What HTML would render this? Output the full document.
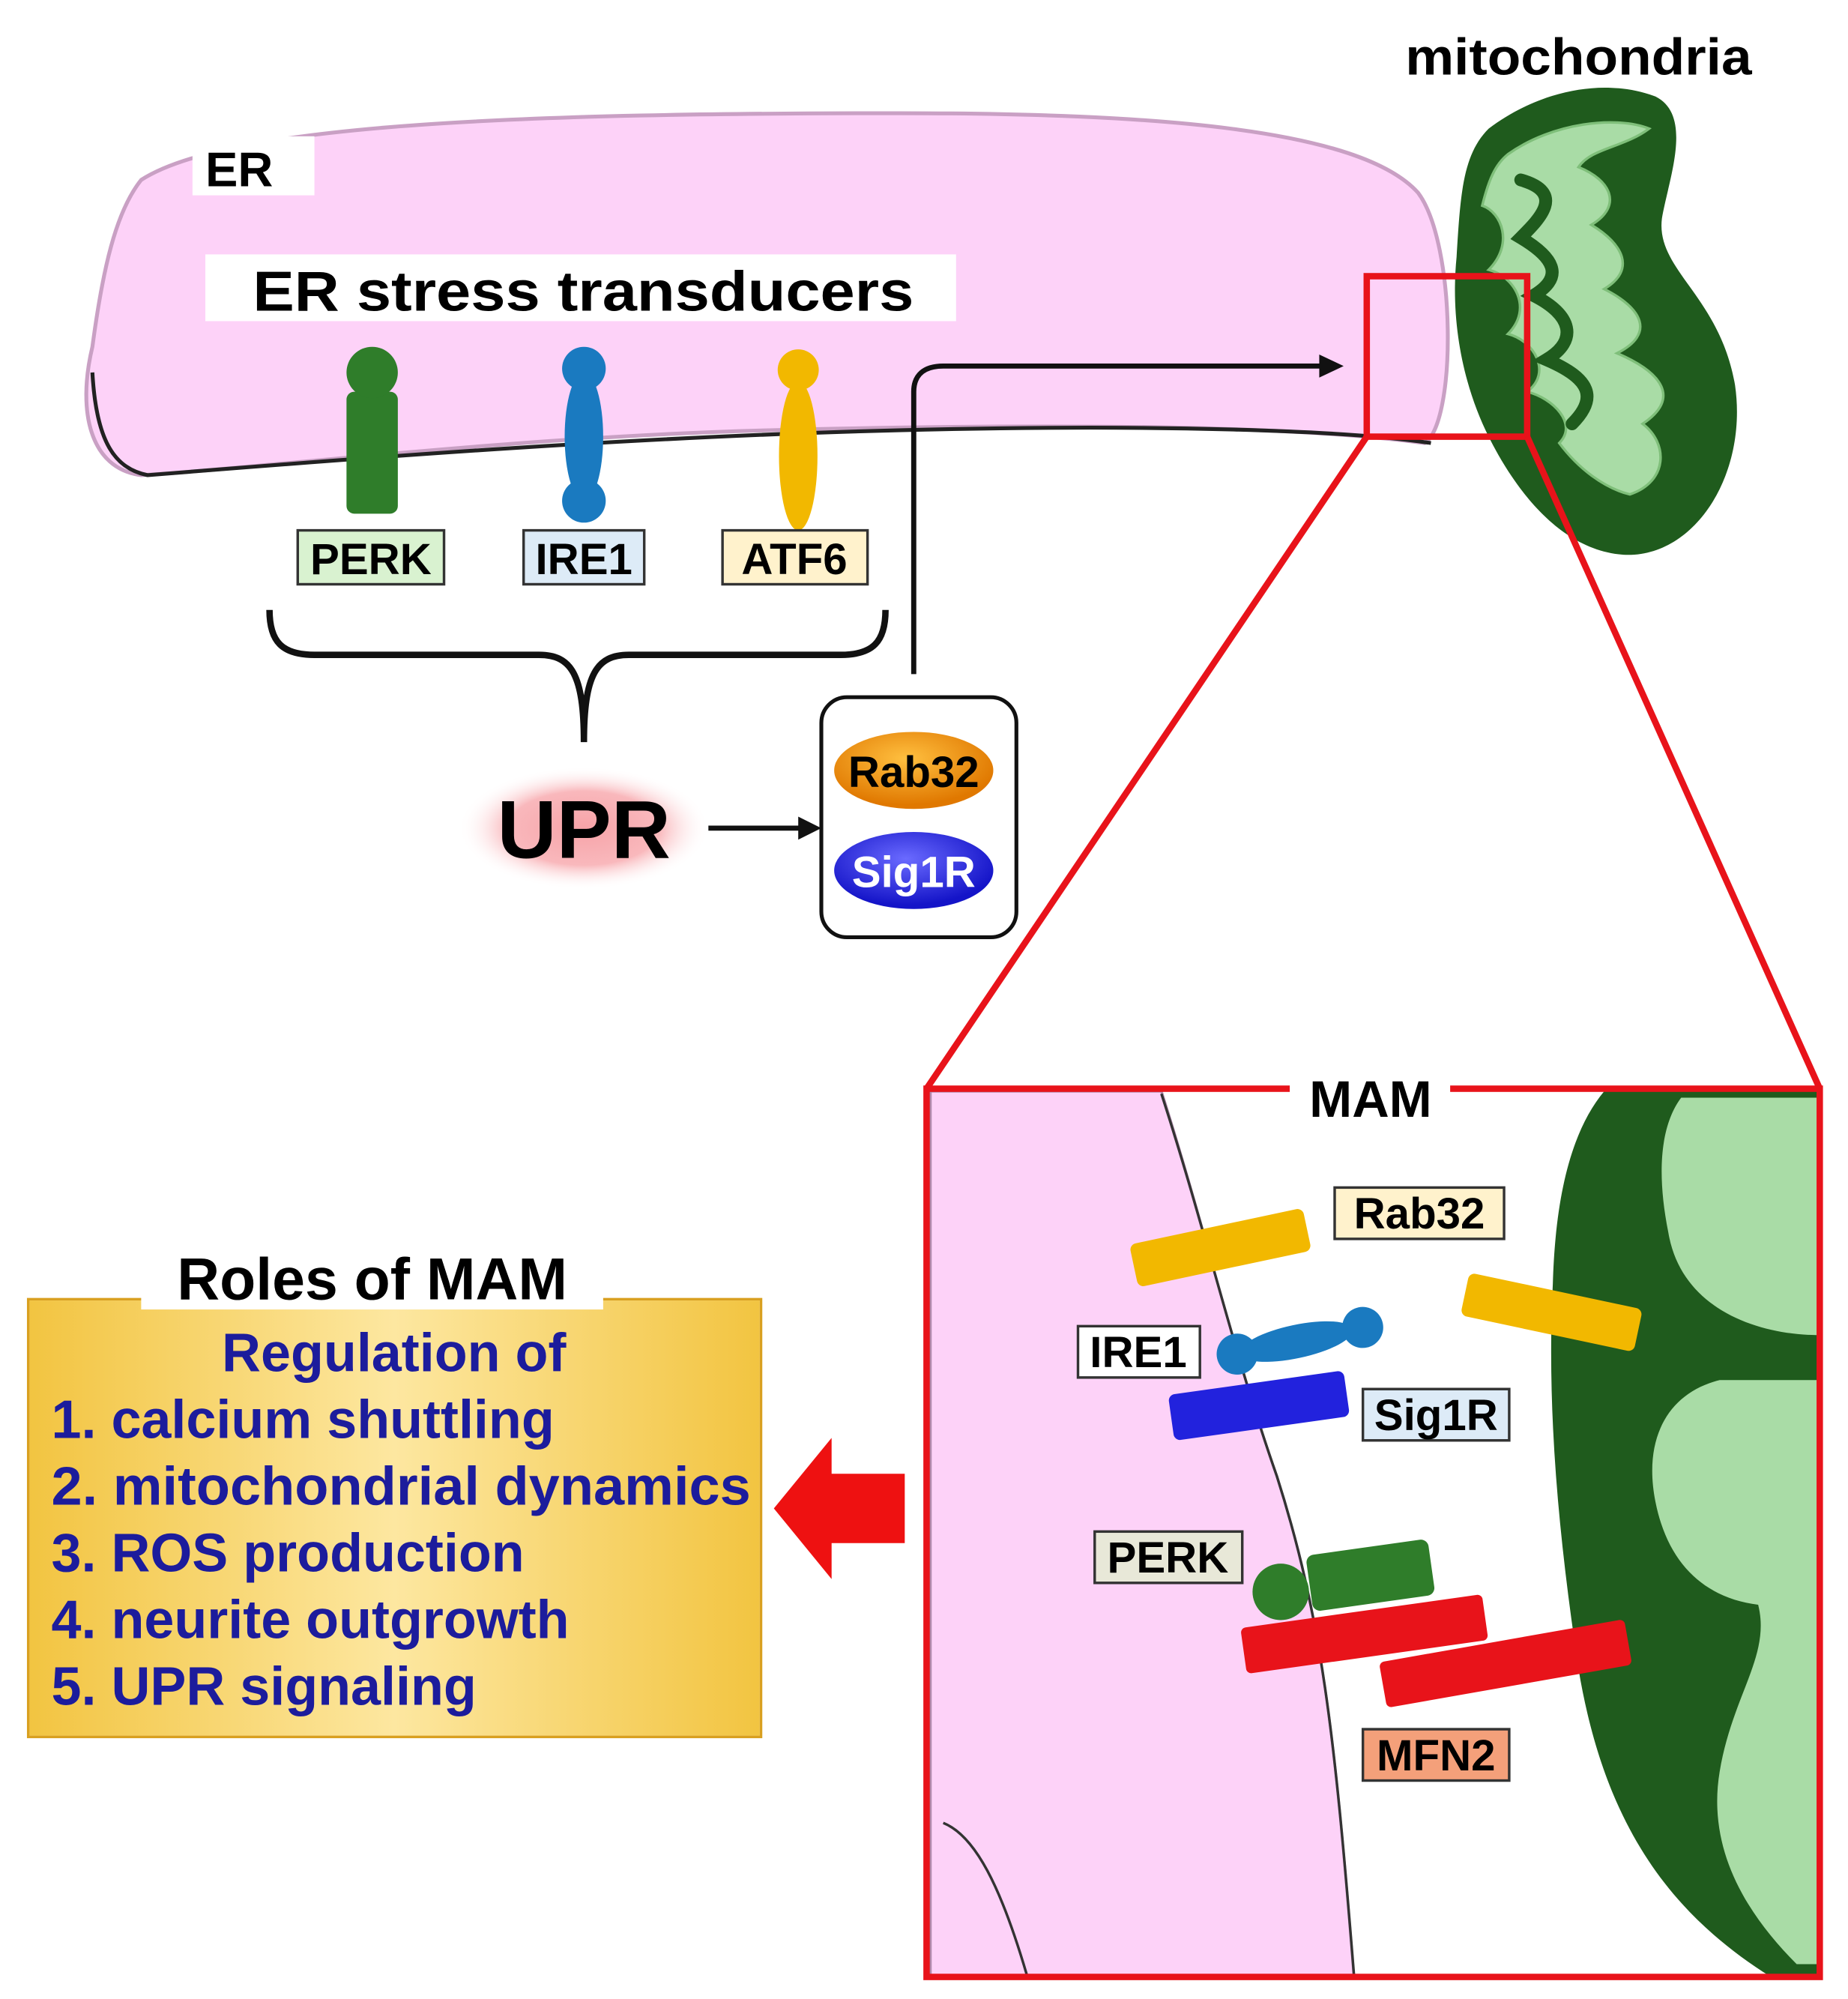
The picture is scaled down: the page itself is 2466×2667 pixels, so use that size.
<!DOCTYPE html>
<html><head><meta charset="utf-8"><style>
html,body{margin:0;padding:0;background:#fff}
svg{display:block}
text{font-family:"Liberation Sans",Arial,sans-serif;font-weight:bold}
</style></head><body>
<svg width="2466" height="2667" viewBox="0 0 1440 1557" xmlns="http://www.w3.org/2000/svg">
<defs>
<radialGradient id="upr" cx="50%" cy="50%" r="50%"><stop offset="0" stop-color="#f7a3a8"/><stop offset="0.6" stop-color="#f9b8bc"/><stop offset="1" stop-color="#fff" stop-opacity="0"/></radialGradient>
<linearGradient id="gold" x1="0" y1="0" x2="1" y2="0"><stop offset="0" stop-color="#f2c440"/><stop offset="0.5" stop-color="#fde7a0"/><stop offset="1" stop-color="#f2c440"/></linearGradient>
<radialGradient id="rab" cx="45%" cy="35%" r="60%"><stop offset="0" stop-color="#ffc040"/><stop offset="1" stop-color="#e07800"/></radialGradient>
<radialGradient id="sig" cx="45%" cy="35%" r="60%"><stop offset="0" stop-color="#6a6aff"/><stop offset="1" stop-color="#1414c8"/></radialGradient>
</defs>
<text x="1095" y="58" font-size="40" textLength="270" lengthAdjust="spacingAndGlyphs">mitochondria</text>
<!-- ER -->
<path d="M110,140 C180,95 420,88 700,88 C900,88 1060,100 1105,150 C1135,190 1135,330 1110,345 C1000,330 800,330 600,335 C400,340 200,365 110,370 C70,365 60,320 72,270 C80,210 90,165 110,140 Z" fill="#fdd2f8" stroke="#c9a0c4" stroke-width="3"/>
<path d="M72,290 C75,345 90,365 115,370 C300,355 500,340 700,335 C900,330 1050,335 1115,345" fill="none" stroke="#222" stroke-width="3"/>
<rect x="150" y="106" width="95" height="46" fill="#fff"/>
<text x="160" y="145" font-size="38">ER</text>
<rect x="160" y="198" width="585" height="52" fill="#fff"/>
<text x="197" y="242" font-size="44" textLength="515" lengthAdjust="spacingAndGlyphs">ER stress transducers</text>
<!-- proteins -->
<rect x="270" y="305" width="40" height="95" rx="6" fill="#2f7d2a"/>
<circle cx="290" cy="290" r="20" fill="#2f7d2a"/>
<ellipse cx="455" cy="340" rx="15" ry="50" fill="#1a7ac0"/>
<circle cx="455" cy="287" r="17" fill="#1a7ac0"/><circle cx="455" cy="390" r="17" fill="#1a7ac0"/>
<circle cx="622" cy="288" r="16" fill="#f2b800"/>
<ellipse cx="622" cy="355" rx="15" ry="58" fill="#f2b800"/>
<rect x="232" y="413" width="114" height="42" fill="#d9f2d0" stroke="#333" stroke-width="2"/>
<text x="289" y="447" font-size="34" text-anchor="middle">PERK</text>
<rect x="408" y="413" width="94" height="42" fill="#ddebf7" stroke="#333" stroke-width="2"/>
<text x="455" y="447" font-size="34" text-anchor="middle">IRE1</text>
<rect x="563" y="413" width="113" height="42" fill="#fff2cc" stroke="#333" stroke-width="2"/>
<text x="619" y="447" font-size="34" text-anchor="middle">ATF6</text>
<path d="M210,475 C210,500 220,510 245,510 L420,510 C445,510 455,525 455,578 M455,578 C455,525 465,510 490,510 L655,510 C680,510 690,500 690,475" fill="none" stroke="#111" stroke-width="5"/>
<ellipse cx="455" cy="645" rx="98" ry="48" fill="url(#upr)"/>
<text x="455" y="668" font-size="64" text-anchor="middle">UPR</text>
<line x1="552" y1="645" x2="625" y2="645" stroke="#111" stroke-width="4"/>
<path d="M640,645 L622,636 L622,654 Z" fill="#111"/>
<rect x="640" y="543" width="152" height="187" rx="20" fill="#fff" stroke="#111" stroke-width="3"/>
<ellipse cx="712" cy="600" rx="62" ry="30" fill="url(#rab)"/>
<text x="712" y="613" font-size="34" text-anchor="middle">Rab32</text>
<ellipse cx="712" cy="678" rx="62" ry="30" fill="url(#sig)"/>
<text x="712" y="691" font-size="34" text-anchor="middle" fill="#fff">Sig1R</text>
<path d="M712,525 L712,305 C712,292 720,285 735,285 L1030,285" fill="none" stroke="#111" stroke-width="4"/>
<path d="M1047,285 L1028,276 L1028,294 Z" fill="#111"/>
<!-- mitochondria -->
<path d="M1160,100 C1200,70 1250,60 1290,75 C1320,90 1300,140 1295,170 C1290,210 1340,230 1352,300 C1362,370 1320,435 1265,432 C1210,428 1175,370 1160,340 C1140,300 1130,250 1135,200 C1138,150 1140,120 1160,100 Z" fill="#1f5b1d"/>
<path d="M1175,120 C1210,95 1260,90 1285,100 C1265,115 1240,115 1230,130 C1255,140 1265,160 1240,175 C1265,190 1275,210 1250,225 C1280,240 1290,260 1260,275 C1295,290 1310,310 1280,330 C1300,345 1300,375 1270,385 C1250,380 1230,365 1215,345 C1230,330 1210,310 1190,305 C1210,290 1195,265 1175,260 C1195,240 1180,215 1160,210 C1180,190 1170,165 1155,160 C1160,140 1165,128 1175,120 Z" fill="#a9dca6" stroke="#7fbf7a" stroke-width="2"/>
<path d="M1185,140 C1220,150 1200,170 1185,185 C1210,200 1220,215 1195,230 C1225,245 1230,265 1205,280 C1240,295 1245,310 1225,330" fill="none" stroke="#1f5b1d" stroke-width="10" stroke-linecap="round"/>
<!-- zoom -->
<rect x="1065" y="215" width="125" height="125" fill="none" stroke="#e8131a" stroke-width="5"/>
<line x1="1065" y1="340" x2="722" y2="848" stroke="#e8131a" stroke-width="5"/>
<line x1="1190" y1="340" x2="1418" y2="848" stroke="#e8131a" stroke-width="5"/>
<rect x="722" y="848" width="696" height="692" fill="#fff"/>
<path d="M725,850 L905,850 C940,960 960,1050 995,1150 C1030,1260 1040,1350 1055,1540 L725,1540 Z" fill="#fdd2f8" stroke="#b08aac" stroke-width="2"/>
<path d="M905,852 C940,960 960,1050 995,1150 C1030,1260 1040,1350 1055,1538 M735,1420 C760,1430 780,1470 800,1538" fill="none" stroke="#333" stroke-width="2"/>
<path d="M1250,850 L1418,850 L1418,1540 L1380,1540 C1300,1490 1250,1420 1230,1300 C1215,1200 1205,1100 1210,1000 C1212,930 1225,880 1250,850 Z" fill="#1f5b1d"/>
<path d="M1310,855 L1418,855 L1418,1040 C1370,1040 1310,1020 1300,960 C1290,910 1295,875 1310,855 Z" fill="#a9dca6"/>
<path d="M1418,1075 L1418,1530 L1400,1530 C1360,1490 1330,1440 1340,1380 C1350,1320 1380,1290 1370,1250 C1330,1245 1300,1220 1290,1170 C1280,1120 1300,1085 1340,1075 Z" fill="#a9dca6"/>
<rect x="722" y="848" width="696" height="692" fill="none" stroke="#e8131a" stroke-width="5"/>
<rect x="1005" y="835" width="125" height="40" fill="#fff"/>
<text x="1068" y="870" font-size="40" text-anchor="middle">MAM</text>
<!-- MAM proteins -->
<g transform="rotate(-12 950 972)"><rect x="882" y="955" width="138" height="34" rx="5" fill="#f2b800"/></g>
<g transform="rotate(12 1208 1022)"><rect x="1140" y="1005" width="138" height="34" rx="5" fill="#f2b800"/></g>
<rect x="1040" y="925" width="132" height="40" fill="#fff2cc" stroke="#333" stroke-width="2"/>
<text x="1106" y="957" font-size="34" text-anchor="middle">Rab32</text>
<g transform="rotate(-8 980 1095)"><rect x="912" y="1077" width="138" height="36" rx="5" fill="#2222dd"/></g>
<g transform="rotate(-12 1010 1045)"><ellipse cx="1010" cy="1045" rx="45" ry="13" fill="#1a7ac0"/><circle cx="963" cy="1045" r="16" fill="#1a7ac0"/><circle cx="1063" cy="1045" r="16" fill="#1a7ac0"/></g>
<rect x="840" y="1033" width="95" height="40" fill="#fff" stroke="#333" stroke-width="2"/>
<text x="887" y="1065" font-size="34" text-anchor="middle">IRE1</text>
<rect x="1062" y="1082" width="114" height="40" fill="#ddebf7" stroke="#333" stroke-width="2"/>
<text x="1119" y="1114" font-size="34" text-anchor="middle">Sig1R</text>
<rect x="853" y="1193" width="115" height="40" fill="#e8e8d8" stroke="#333" stroke-width="2"/>
<text x="910" y="1225" font-size="34" text-anchor="middle">PERK</text>
<g transform="rotate(-8 1068 1228)"><rect x="1020" y="1205" width="96" height="44" rx="6" fill="#2f7d2a"/></g>
<circle cx="998" cy="1240" r="22" fill="#2f7d2a"/>
<g transform="rotate(-8 1062 1272)"><rect x="968" y="1255" width="190" height="36" rx="4" fill="#e8131a"/></g>
<g transform="rotate(-10 1172 1295)"><rect x="1076" y="1278" width="194" height="36" rx="4" fill="#e8131a"/></g>
<rect x="1062" y="1347" width="114" height="40" fill="#f4a07a" stroke="#333" stroke-width="2"/>
<text x="1119" y="1379" font-size="34" text-anchor="middle">MFN2</text>
<!-- Roles box -->
<rect x="20" y="1010" width="575" height="345" fill="url(#gold)" stroke="#fff" stroke-width="6"/>
<rect x="22" y="1012" width="571" height="341" fill="none" stroke="#d9a020" stroke-width="2"/>
<rect x="110" y="968" width="360" height="52" fill="#fff"/>
<text x="290" y="1012" font-size="46" text-anchor="middle">Roles of MAM</text>
<g font-size="42">
<text x="307" y="1068" text-anchor="middle" fill="#1c1c9c">Regulation of</text>
<text x="40" y="1120" fill="#1c1c9c">1. calcium shuttling</text>
<text x="40" y="1172" fill="#1c1c9c" textLength="545" lengthAdjust="spacingAndGlyphs">2. mitochondrial dynamics</text>
<text x="40" y="1224" fill="#1c1c9c">3. ROS production</text>
<text x="40" y="1276" fill="#1c1c9c">4. neurite outgrowth</text>
<text x="40" y="1328" fill="#1c1c9c">5. UPR signaling</text>
</g>
<path d="M705,1148 L648,1148 L648,1120 L603,1175 L648,1230 L648,1202 L705,1202 Z" fill="#ee1111"/>
</svg>
</body></html>
